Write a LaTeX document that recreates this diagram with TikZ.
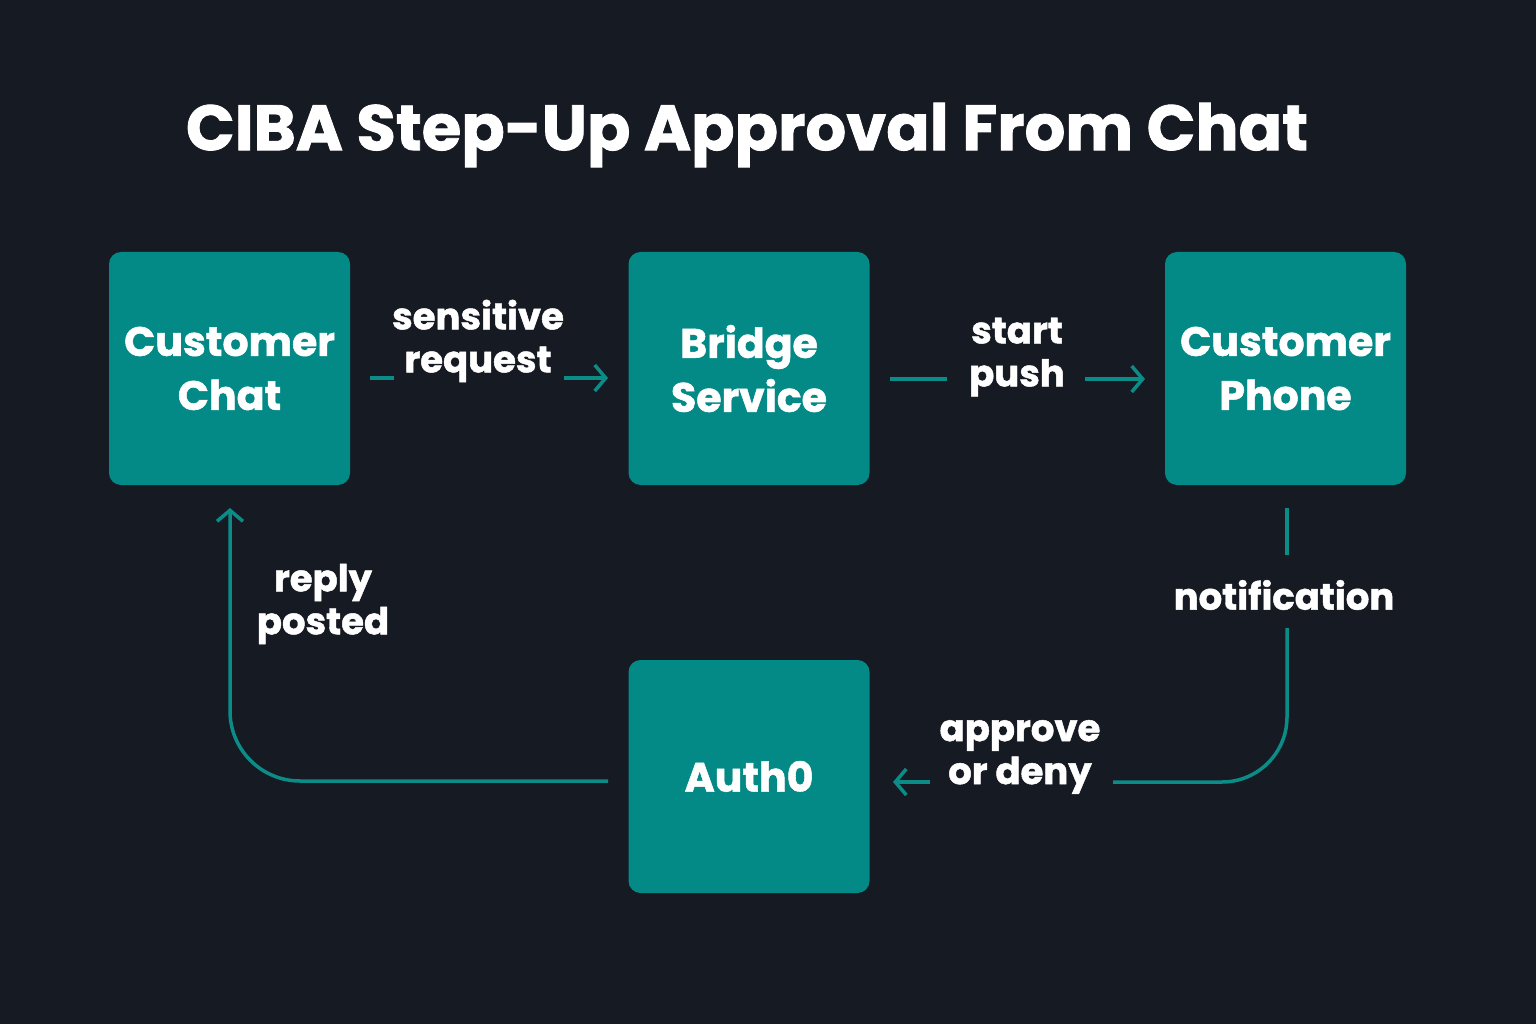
\documentclass[tikz,border=0pt]{standalone}
\usepackage{fontspec}
\setmainfont{Poppins}[FakeBold=1.3]
\usetikzlibrary{arrows.meta}
\definecolor{bg}{HTML}{161A23}
\definecolor{teal}{HTML}{038A86}
\definecolor{lin}{HTML}{0B8C87}
\begin{document}
\begin{tikzpicture}[x=1pt,y=-1pt,
  box/.style={fill=teal,rounded corners=12pt,minimum width=241pt,minimum height=233pt,text=white,align=center,font=\fontsize{41}{54}\selectfont\bfseries,inner sep=0pt},
  lab/.style={text=white,align=center,font=\fontsize{37}{43}\selectfont\bfseries,inner sep=0pt},
  ln/.style={draw=lin,line width=3.5pt},
  arr/.style={ln,-{Straight Barb[length=11pt,width=26pt,line width=3.5pt]}}]
\fill[bg] (0,0) rectangle (1536,1024);
\useasboundingbox (0,0) rectangle (1536,1024);
\node[text=white,font=\fontsize{64}{72}\selectfont\bfseries] (title) at (747,135) {CIBA Step-Up Approval From Chat};
\node[box] (chat) at (229.5,368.5) {Customer\\Chat};
\node[box] (bridge) at (749,368.5) {Bridge\\Service};
\node[box] (phone) at (1285.5,368.5) {Customer\\Phone};
\node[box] (auth) at (749,776.5) {Auth0};
% sensitive request
\node[lab] (l1) at (478,341) {sensitive\\request};
\coordinate (a1) at (370,378); \coordinate (a2) at (394,378);
\coordinate (a3) at (564,378); \coordinate (a4) at (608,378);
\draw[ln] (a1) -- (a2);
\draw[arr] (a3) -- (a4);
% start push
\node[lab] (l2) at (1017,357) {start\\push};
\coordinate (b1) at (890,379); \coordinate (b2) at (947,379);
\coordinate (b3) at (1085,379); \coordinate (b4) at (1145,379);
\draw[ln] (b1) -- (b2);
\draw[arr] (b3) -- (b4);
% notification
\node[lab] (l3) at (1284,595) {notification};
\coordinate (c1) at (1287,508); \coordinate (c2) at (1287,555);
\coordinate (c3) at (1287,628); \coordinate (c4) at (1113,782);
\draw[ln] (c1) -- (c2);
\draw[ln,rounded corners=65pt] (c3) |- (c4);
\node[lab] (l4) at (1020,757) {approve\\or deny};
\coordinate (d1) at (930,782); \coordinate (d2) at (893,782);
\draw[arr] (d1) -- (d2);
% reply posted
\node[lab] (l5) at (323,604) {reply\\posted};
\coordinate (e1) at (608,781); \coordinate (e2) at (230,508);
\draw[arr,rounded corners=70pt] (e1) -| (e2);
\end{tikzpicture}
\end{document}
